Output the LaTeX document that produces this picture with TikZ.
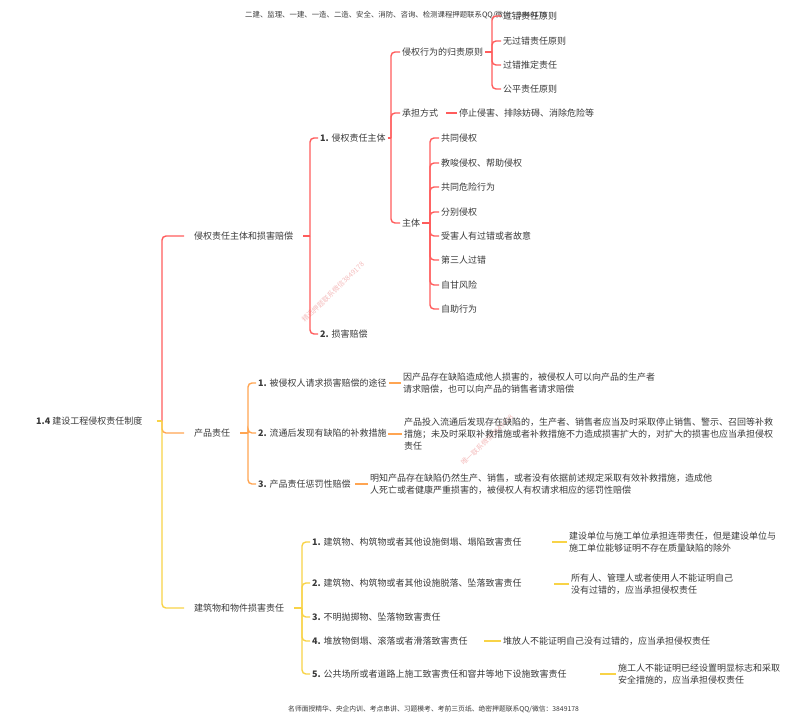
\documentclass[tikz,border=0pt]{standalone}
\usepackage{fontspec}
\setmainfont{Noto Sans CJK SC}
\definecolor{txt}{HTML}{3A3A3A}
\definecolor{cred}{HTML}{FF5C5C}
\definecolor{corg}{HTML}{FFA552}
\definecolor{cyel}{HTML}{F8D347}
\definecolor{wm}{HTML}{F4BDBD}
\begin{document}
\begin{tikzpicture}[x=1pt,y=-1pt,
  every node/.style={font=\fontsize{9}{12}\selectfont, text=txt, inner xsep=2pt, inner ysep=1pt, anchor=west, align=left},
  lvone/.style={inner xsep=10pt},
  rootnode/.style={inner xsep=14pt},
  lnk/.style={line width=1.4pt, rounded corners=4pt},
  rd/.style={lnk, draw=cred},
  og/.style={lnk, draw=corg},
  yl/.style={lnk, draw=cyel},
  note/.style={font=\fontsize{7.4}{9}\selectfont, text=txt, inner sep=0pt},
  wmark/.style={font=\fontsize{7}{8}\selectfont, text=wm, inner sep=0pt, anchor=center}
]
\useasboundingbox (0,0) rectangle (800,721);

% watermarks
\node[wmark, rotate=44] (wm1) at (333,292) {精选押题联系微信3849178};
\node[wmark, rotate=44] (wm2) at (487,440) {唯一联系微信3849178};

% header / footer
\node[note] (hdr) at (245,15) {二建、监理、一建、一造、二造、安全、消防、咨询、检测课程押题联系QQ/微信：3849178};
\node[note, font=\fontsize{6.8}{8}\selectfont] (ftr) at (288,709) {名师面授精华、央企内训、考点串讲、习题模考、考前三页纸、绝密押题联系QQ/微信：3849178};

% root and level 1
\node[rootnode] (root) at (22,421) {\textbf{1.4} 建设工程侵权责任制度};
\node[lvone] (a) at (184,236) {侵权责任主体和损害赔偿};
\node[lvone] (b) at (184,433) {产品责任};
\node[lvone] (c) at (184,608) {建筑物和物件损害责任};

% branch a
\node (a1) at (318,138) {\textbf{1.} 侵权责任主体};
\node (a2) at (318,334) {\textbf{2.} 损害赔偿};
\node (a11) at (400,52) {侵权行为的归责原则};
\node (a12) at (400,113) {承担方式};
\node (a13) at (400,223) {主体};
\node (a111) at (501,16) {过错责任原则};
\node (a112) at (501,41) {无过错责任原则};
\node (a113) at (501,65) {过错推定责任};
\node (a114) at (501,89) {公平责任原则};
\node (a12l) at (457,113) {停止侵害、排除妨碍、消除危险等};
\node (a131) at (439,138) {共同侵权};
\node (a132) at (439,163) {教唆侵权、帮助侵权};
\node (a133) at (439,187) {共同危险行为};
\node (a134) at (439,212) {分别侵权};
\node (a135) at (439,236) {受害人有过错或者故意};
\node (a136) at (439,260) {第三人过错};
\node (a137) at (439,285) {自甘风险};
\node (a138) at (439,309) {自助行为};

% branch b
\node (b1) at (256,383) {\textbf{1.} 被侵权人请求损害赔偿的途径};
\node (b2) at (256,433) {\textbf{2.} 流通后发现有缺陷的补救措施};
\node (b3) at (256,484) {\textbf{3.} 产品责任惩罚性赔偿};
\node (b1l) at (401,383) {因产品存在缺陷造成他人损害的，被侵权人可以向产品的生产者\\请求赔偿，也可以向产品的销售者请求赔偿};
\node (b2l) at (402,434) {产品投入流通后发现存在缺陷的，生产者、销售者应当及时采取停止销售、警示、召回等补救\\措施；未及时采取补救措施或者补救措施不力造成损害扩大的，对扩大的损害也应当承担侵权\\责任};
\node (b3l) at (368,484) {明知产品存在缺陷仍然生产、销售，或者没有依据前述规定采取有效补救措施，造成他\\人死亡或者健康严重损害的，被侵权人有权请求相应的惩罚性赔偿};

% branch c
\node (c1) at (310,542) {\textbf{1.} 建筑物、构筑物或者其他设施倒塌、塌陷致害责任};
\node (c2) at (310,583) {\textbf{2.} 建筑物、构筑物或者其他设施脱落、坠落致害责任};
\node (c3) at (310,617) {\textbf{3.} 不明抛掷物、坠落物致害责任};
\node (c4) at (310,641) {\textbf{4.} 堆放物倒塌、滚落或者滑落致害责任};
\node (c5) at (310,674) {\textbf{5.} 公共场所或者道路上施工致害责任和窨井等地下设施致害责任};
\node (c1l) at (567,542) {建设单位与施工单位承担连带责任，但是建设单位与\\施工单位能够证明不存在质量缺陷的除外};
\node (c2l) at (569,584) {所有人、管理人或者使用人不能证明自己\\没有过错的，应当承担侵权责任};
\node (c4l) at (501,641) {堆放人不能证明自己没有过错的，应当承担侵权责任};
\node (c5l) at (616,674) {施工人不能证明已经设置明显标志和采取\\安全措施的，应当承担侵权责任};

% bus coordinates
\coordinate (rbus) at (162,421);
\coordinate (abus) at (310,236);
\coordinate (a1bus) at (391,138);
\coordinate (a11bus) at (492,52);
\coordinate (a13bus) at (430,223);
\coordinate (bbus) at (248,433);
\coordinate (cbus) at (302,608);

% root connectors
\draw[rd] (rbus) |- (a.west);
\draw[og] (rbus) |- (b.west);
\draw[yl] (rbus) |- (c.west);
\draw[yl] (root.east) -- (rbus);

% branch a connectors
\draw[rd] (a.east) -- (abus);
\draw[rd] (abus) |- (a1.west);
\draw[rd] (abus) |- (a2.west);
\draw[rd] (a1.east) -- (a1bus);
\draw[rd] (a1bus) |- (a11.west);
\draw[rd] (a1bus) |- (a12.west);
\draw[rd] (a1bus) |- (a13.west);
\draw[rd] (a11.east) -- (a11bus);
\foreach \n in {a111,a112,a113,a114} \draw[rd] (a11bus) |- (\n.west);
\draw[rd] (a12l.west) -- ++(-11,0);
\draw[rd] (a13.east) -- (a13bus);
\foreach \n in {a131,a132,a133,a134,a135,a136,a137,a138} \draw[rd] (a13bus) |- (\n.west);

% branch b connectors
\draw[og] (b.east) -- (bbus);
\foreach \n in {b1,b2,b3} \draw[og] (bbus) |- (\n.west);
\draw[og] (b1l.west) -- ++(-12,0);
\draw[og] (b2l.west) -- ++(-14,0);
\draw[og] (b3l.west) -- ++(-13,0);

% branch c connectors
\draw[yl] (c.east) -- (cbus);
\foreach \n in {c1,c2,c3,c4,c5} \draw[yl] (cbus) |- (\n.west);
\draw[yl] (c1l.west) -- ++(-15,0);
\draw[yl] (c2l.west) -- ++(-15,0);
\draw[yl] (c4l.west) -- ++(-17,0);
\draw[yl] (c5l.west) -- ++(-16,0);
\end{tikzpicture}
\end{document}
